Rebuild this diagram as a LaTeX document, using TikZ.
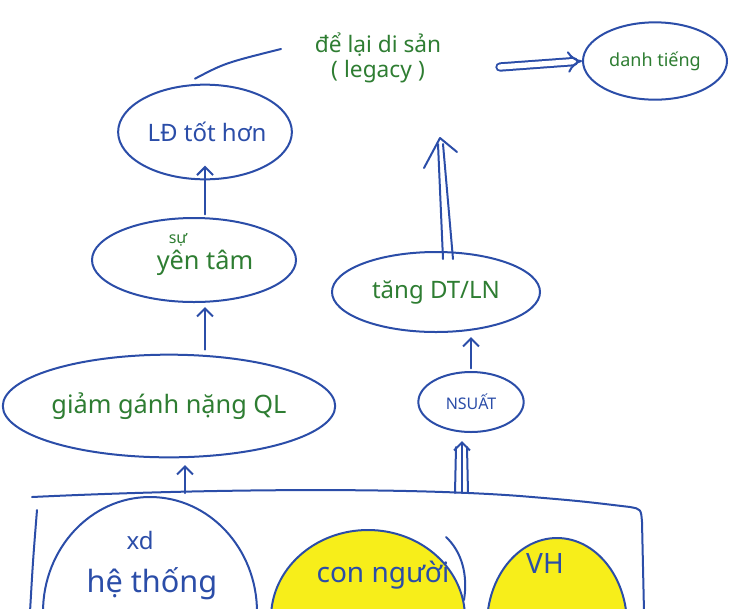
\documentclass[tikz,border=0pt]{standalone}
\usepackage{fontspec}
\setmainfont{Noto Sans}
\usetikzlibrary{arrows.meta,calc,shapes.geometric}
\definecolor{inkblue}{HTML}{2B4DA8}
\definecolor{inkgreen}{HTML}{2E7D32}
\definecolor{hiyellow}{HTML}{F7EE1A}
\newcommand{\fs}[1]{\fontsize{#1}{#1}\selectfont}
\begin{document}
\begin{tikzpicture}[x=0.75pt,y=-0.75pt,
  ink/.style={draw=inkblue, line width=1.5pt, line cap=round, line join=round},
  bub/.style={ellipse, ink, inner sep=0pt},
  gtext/.style={text=inkgreen},
  btext/.style={text=inkblue},
  up/.style={ink, -{Straight Barb[length=6pt,width=12pt,line width=1.5pt]}},
]
\useasboundingbox (0,0) rectangle (731,608);
\clip (0,0) rectangle (731,608);

% ---------- top row ----------
\node[gtext, align=center, font=\fs{17}] (leg) at (378,58) {để lại di sản\\[2pt](\;legacy\;)};
\node[bub, minimum width=108pt, minimum height=58pt, gtext, font=\fs{13.5}] (DT) at (655,61) {danh tiếng};
\coordinate (legr) at (500,67);
\draw[ink, double=white, double distance=4pt, -{Implies[length=8pt]}] (legr) -- (DT.west);

% ---------- left column ----------
\node[bub, minimum width=130pt, minimum height=71pt, btext, font=\fs{18}] (LD) at (205,132) {\,LĐ tốt hơn};
\coordinate (legl) at (281,49);
\draw[ink] ($(LD.north)+(-10,-5)$) .. controls (225,63) .. (legl);

\node[bub, minimum width=153pt, minimum height=63pt] (yen) at (194,260) {};
\node[gtext, font=\fs{19}] (yent) at (205,263) {yên tâm};
\node[gtext, font=\fs{12}] (su) at (178,240) {sự};

\node[bub, minimum width=241pt, minimum height=77pt, gtext, font=\fs{19}] (giam) at (169,406) {giảm gánh nặng QL};

\draw[up, shorten <=2pt, shorten >=-11pt] (yen.north -| LD.south) -- (LD.south);
\draw[up, shorten <=3pt, shorten >=3pt] (giam.north -| LD.south) -- (yen.south -| LD.south);

% ---------- right column ----------
\node[bub, minimum width=156pt, minimum height=60pt, gtext, font=\fs{18}] (tang) at (436,292) {tăng DT/LN};
\node[bub, minimum width=79pt, minimum height=45pt, btext, font=\fs{12}] (NS) at (471,402) {NSUẤT};

\draw[up, shorten <=2pt, shorten >=3pt] (NS.north) -- (tang.south -| NS.north);

\coordinate (legtip) at (440,138);
\coordinate (ta) at ($(tang.north)+(12,8)$);
\draw[ink] ($(ta)+(-5,0)$) -- ($(legtip)+(-2,6)$);
\draw[ink] ($(ta)+(5,0)$) -- ($(legtip)+(3,6)$);
\draw[ink] ($(legtip)+(-16,30)$) -- (legtip) -- ($(legtip)+(17,14)$);

% ---------- bottom box ----------
\draw[ink] (32,497) .. controls (200,489) and (400,487) .. (520,496) .. controls (580,501) .. (630,507) .. controls (641,509) .. (642,522) -- (644,612);
\draw[ink] (37,510) .. controls (33,560) .. (30,612);
\coordinate (bx1) at (185,493);
\coordinate (bx2) at (462,493);
\draw[up, shorten >=5pt] (bx1) -- (giam.south -| bx1);
\draw[up, shorten >=6pt] (bx2) -- (NS.south -| bx2);
\draw[ink] ($(bx2)+(-7,0)$) -- ($(NS.south -| bx2)+(-6,14)$);
\draw[ink] ($(bx2)+(6,0)$) -- ($(NS.south -| bx2)+(5,14)$);

% xd he thong
\draw[ink] (150,612) ellipse (107 and 115);
\node[btext, font=\fs{18}] (xd) at (140,540) {xd};
\node[btext, font=\fs{23}] (ht) at (152,584) {hệ thống};

% con nguoi
\filldraw[fill=hiyellow, ink] (368,618) ellipse (97 and 88);
\draw[ink] (446,537) .. controls (462,552) and (468,575) .. (464,600);
\node[btext, font=\fs{21}] (cn) at (383,575) {con người};

% VH
\filldraw[fill=hiyellow, ink] (557,625) ellipse (70 and 87);
\node[btext, font=\fs{21}] (vh) at (545,563) {VH};
\end{tikzpicture}
\end{document}
